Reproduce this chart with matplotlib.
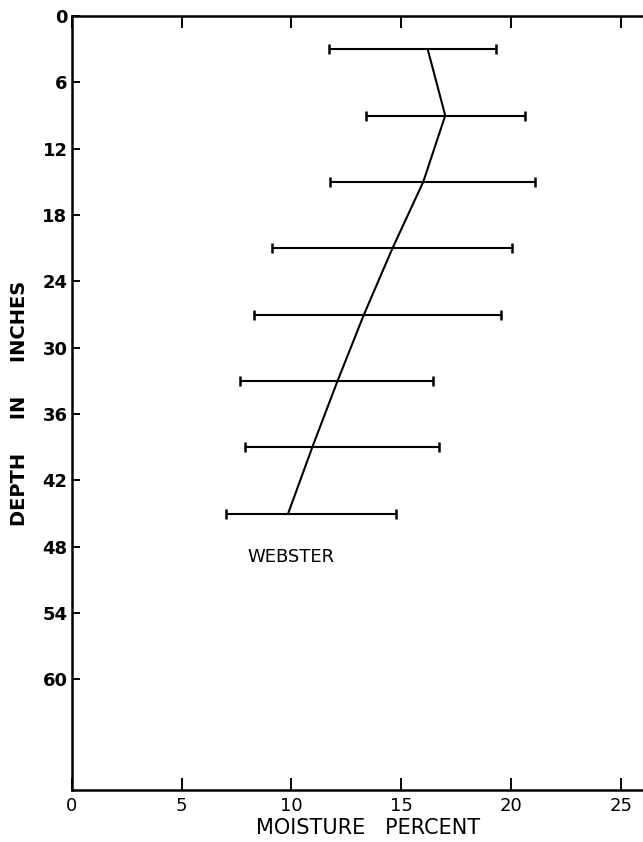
import numpy as np
import matplotlib
matplotlib.use("Agg")
import matplotlib.pyplot as plt

# ===============================
# Datos (Webster)
# ===============================
profundidad = [3, 9, 15, 21, 27, 33, 39, 45]            # pulgadas
humedad_media = [16.2, 17.0, 16.0, 14.6, 13.3, 12.1, 10.95, 9.85]
humedad_min = [11.7, 13.4, 11.75, 9.1, 8.3, 7.65, 7.9, 7.0]
humedad_max = [19.3, 20.65, 21.1, 20.05, 19.55, 16.45, 16.7, 14.75]

xticks = [0, 5, 10, 15, 20, 25]
yticks = [0, 6, 12, 18, 24, 30, 36, 42, 48, 54, 60]

plt.rcParams['font.family'] = ['DejaVu Sans']

fig = plt.figure(figsize=(6.43, 8.42), dpi=100)
ax = fig.add_axes([0.1115, 0.0618, 0.8885, 0.9192])

media = np.array(humedad_media)
err = [media - np.array(humedad_min), np.array(humedad_max) - media]

# Barras de error horizontales
ax.errorbar(humedad_media, profundidad, xerr=err, fmt='none',
            ecolor='black', elinewidth=1.5, capsize=3.8, capthick=1.8)
# Línea de medias
ax.plot(humedad_media, profundidad, color='black', linewidth=1.5)

ax.text(8.0, 48.9, "WEBSTER", fontsize=13, va='center', ha='left')

# Ejes
ax.set_xlim(0, 26)
ax.set_ylim(70, 0)
ax.set_xticks(xticks)
ax.set_yticks(yticks)
ax.set_xticklabels([str(v) for v in xticks], fontsize=13)
ax.set_yticklabels([str(v) for v in yticks], fontsize=13, fontweight='bold')

ax.tick_params(axis='x', direction='in', length=8.5, width=1.4,
               top=True, bottom=True, pad=5)
ax.tick_params(axis='y', direction='in', length=5.5, width=1.4,
               left=True, right=False, pad=3)

for s in ['left', 'top', 'bottom']:
    ax.spines[s].set_linewidth(1.8)
ax.spines['right'].set_visible(False)

ax.set_xlabel("MOISTURE   PERCENT", fontsize=15)
ax.xaxis.set_label_coords(13.5 / 26, -0.036)
ax.set_ylabel("DEPTH     IN     INCHES", fontsize=14, fontweight='bold')
ax.yaxis.set_label_coords(-0.074, 0.5)

fig.savefig("out.png", dpi=100)
